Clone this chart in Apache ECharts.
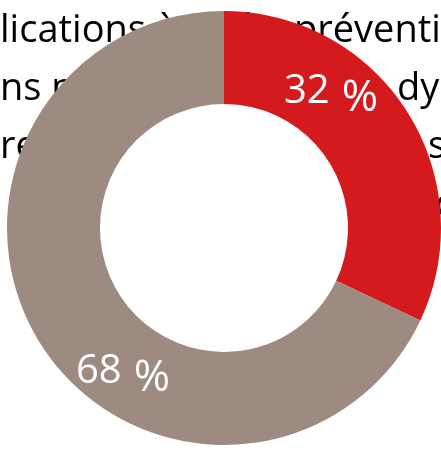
<!DOCTYPE html>
<html>
<head>
<meta charset="utf-8">
<script src="https://cdn.jsdelivr.net/npm/echarts@6/dist/echarts.min.js"></script>
<style>
html,body{margin:0;padding:0;background:#fff;}
#c{width:441px;height:452px;}
</style>
</head>
<body>
<div id="c"></div>
<script>
// ---- data ----
const categories = ['rouge', 'gris'];
const values = [32, 68];
const colors = ['#d51a1d', '#9d8a81'];
// background paragraph fragments (partly hidden by the ring)
const textLeft = ['lications à visée', 'ns notre', 're de', ''];
const textRight = ['préventive', 'dynamique', 'sur', 'c'];

// ---- layout ----
const CX = 224, CY = 228, R_IN = 124, R_OUT = 217;
const baselines = [43, 101, 159, 217];
const rightX = [294, 397, 428, 435];
const bodyFont = 38;
const labelPos = [[331, 92], [123, 372]];

const chart = echarts.init(document.getElementById('c'), null, {renderer: 'canvas'});

const graphics = [];
for (let i = 0; i < baselines.length; i++) {
  const y = baselines[i] - bodyFont * 0.3;
  if (textLeft[i]) graphics.push({type: 'text', x: 0, y: y, z: 0, silent: true,
    style: {text: textLeft[i], fill: '#000', font: bodyFont + 'px "Open Sans"', align: 'left', verticalAlign: 'middle'}});
  if (textRight[i]) graphics.push({type: 'text', x: rightX[i], y: y, z: 0, silent: true,
    style: {text: textRight[i], fill: '#000', font: bodyFont + 'px "Open Sans"', align: 'left', verticalAlign: 'middle'}});
}

chart.setOption({
  animation: false,
  graphic: graphics,
  series: [
    {
      type: 'pie', silent: true, z: 2,
      center: [CX, CY], radius: [0, R_IN],
      label: {show: false}, labelLine: {show: false},
      data: [{value: 1, name: 'hole', itemStyle: {color: '#ffffff'}}]
    },
    {
      type: 'pie', silent: true, z: 3,
      center: [CX, CY], radius: [R_IN, R_OUT],
      startAngle: 90, clockwise: true,
      itemStyle: {borderWidth: 0},
      labelLine: {show: false},
      label: {
        show: true, position: 'inside',
        formatter: p => '{n|' + p.value + '}{p|%}',
        rich: {
          n: {fontFamily: 'Open Sans', fontSize: 40, color: '#fff'},
          p: {fontFamily: 'Open Sans', fontSize: 44, color: '#fff', padding: [12, 0, 0, 12]}
        }
      },
      labelLayout: p => ({x: labelPos[p.dataIndex][0], y: labelPos[p.dataIndex][1], align: 'center', verticalAlign: 'middle'}),
      data: categories.map((c, i) => ({name: c, value: values[i], itemStyle: {color: colors[i]}}))
    }
  ]
});
</script>
</body>
</html>
